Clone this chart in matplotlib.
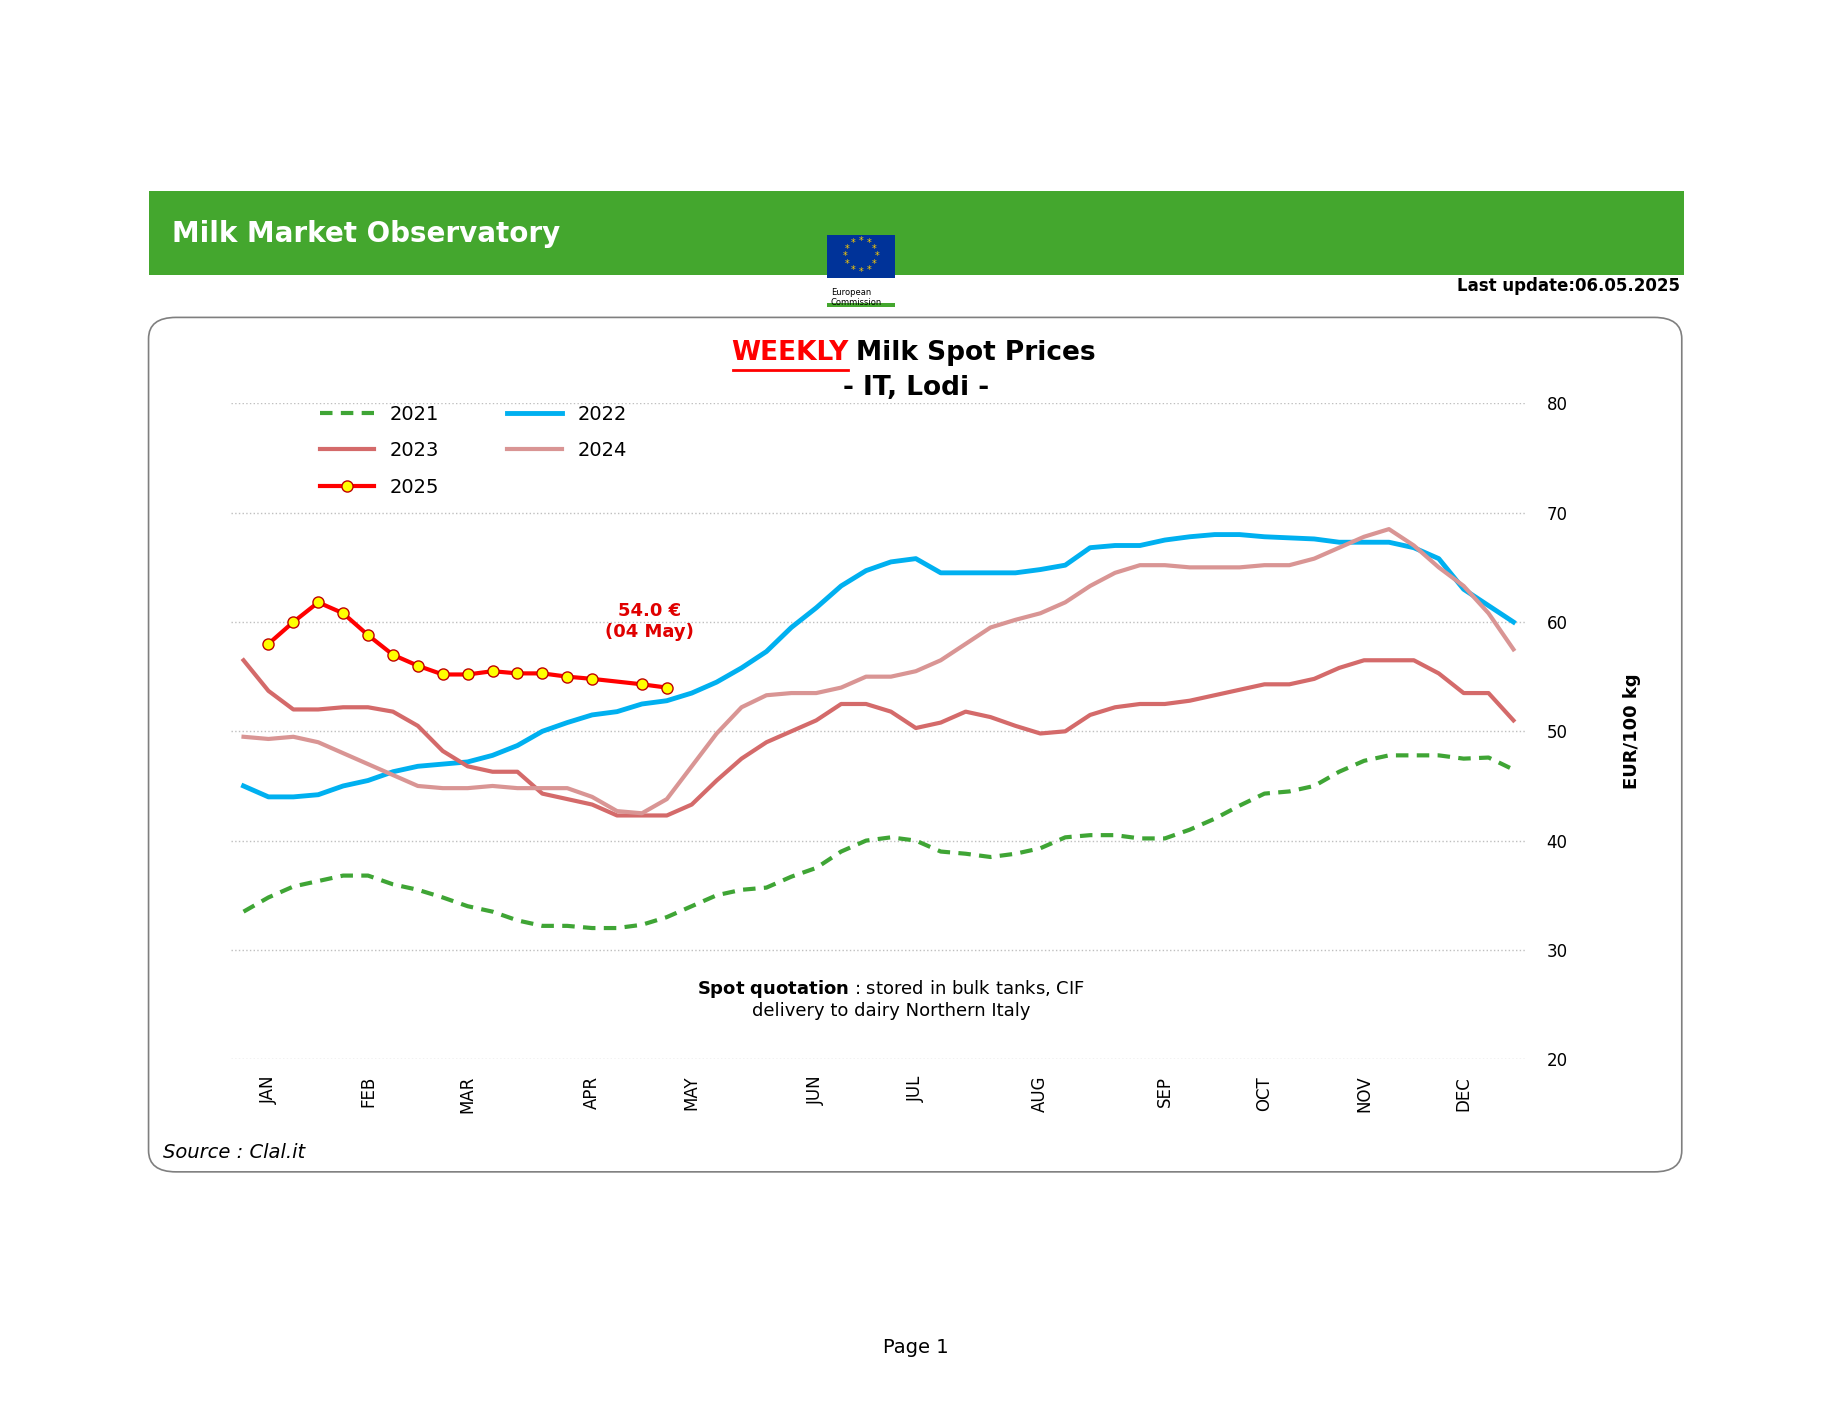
import numpy as np
import matplotlib.pyplot as plt
from matplotlib.patches import Rectangle, FancyBboxPatch

# Weekly spot prices, EUR/100 kg, week 0..51
p2021 = [33.5, 34.8, 35.8, 36.3, 36.8, 36.8, 36, 35.5, 34.8, 34, 33.5, 32.7, 32.2, 32.2, 32, 32, 32.3, 33,
         34, 35, 35.5, 35.7, 36.7, 37.5, 39, 40, 40.3, 40, 39, 38.8, 38.5, 38.8, 39.3, 40.3, 40.5, 40.5,
         40.2, 40.2, 41, 42, 43.2, 44.3, 44.5, 45, 46.3, 47.3, 47.8, 47.8, 47.8, 47.5, 47.6, 46.5]
p2022 = [45, 44, 44, 44.2, 45, 45.5, 46.3, 46.8, 47, 47.2, 47.8, 48.7, 50, 50.8, 51.5, 51.8, 52.5, 52.8,
         53.5, 54.5, 55.8, 57.3, 59.5, 61.3, 63.3, 64.7, 65.5, 65.8, 64.5, 64.5, 64.5, 64.5, 64.8, 65.2,
         66.8, 67, 67, 67.5, 67.8, 68, 68, 67.8, 67.7, 67.6, 67.3, 67.3, 67.3, 66.8, 65.8, 63, 61.5, 60]
p2023 = [56.5, 53.7, 52, 52, 52.2, 52.2, 51.8, 50.5, 48.2, 46.8, 46.3, 46.3, 44.3, 43.8, 43.3, 42.3, 42.3,
         42.3, 43.3, 45.5, 47.5, 49, 50, 51, 52.5, 52.5, 51.8, 50.3, 50.8, 51.8, 51.3, 50.5, 49.8, 50, 51.5,
         52.2, 52.5, 52.5, 52.8, 53.3, 53.8, 54.3, 54.3, 54.8, 55.8, 56.5, 56.5, 56.5, 55.3, 53.5, 53.5, 51]
p2024 = [49.5, 49.3, 49.5, 49, 48, 47, 46, 45, 44.8, 44.8, 45, 44.8, 44.8, 44.8, 44, 42.7, 42.5, 43.8,
         46.8, 49.8, 52.2, 53.3, 53.5, 53.5, 54, 55, 55, 55.5, 56.5, 58, 59.5, 60.2, 60.8, 61.8, 63.3, 64.5,
         65.2, 65.2, 65, 65, 65, 65.2, 65.2, 65.8, 66.8, 67.8, 68.5, 67, 65, 63.3, 60.8, 57.5]
w2025 = [1, 2, 3, 4, 5, 6, 7, 8, 9, 10, 11, 12, 13, 14, 16, 17]
p2025 = [58, 60, 61.8, 60.8, 58.8, 57, 56, 55.2, 55.2, 55.5, 55.3, 55.3, 55, 54.8, 54.3, 54.0]

months = ['JAN', 'FEB', 'MAR', 'APR', 'MAY', 'JUN', 'JUL', 'AUG', 'SEP', 'OCT', 'NOV', 'DEC']
month_weeks = [1, 5, 9, 14, 18, 23, 27, 32, 37, 41, 45, 49]

fig = plt.figure(figsize=(18.34, 14.17), dpi=100)

# header band and frame
fig.patches.append(Rectangle((0.081, 0.806), 0.837, 0.0595, transform=fig.transFigure,
                             facecolor='#44A72E', edgecolor='none'))
fig.patches.append(FancyBboxPatch((0.081, 0.173), 0.836, 0.603, boxstyle='round,pad=0,rounding_size=0.015',
                                  transform=fig.transFigure, facecolor='none', edgecolor='#7F7F7F', lw=1.2))
fig.patches.append(Rectangle((0.451, 0.804), 0.037, 0.03, transform=fig.transFigure,
                             facecolor='#003399', edgecolor='none'))
fig.patches.append(Rectangle((0.451, 0.783), 0.037, 0.003, transform=fig.transFigure,
                             facecolor='#44A72E', edgecolor='none'))
fig.text(0.094, 0.835, 'Milk Market Observatory', color='white', fontsize=20, weight='bold', va='center')
fig.text(0.916, 0.798, 'Last update:06.05.2025', fontsize=12, weight='bold', ha='right', va='center')
fig.text(0.453, 0.797, 'European\nCommission', fontsize=6, va='top')
for a in np.linspace(0, 2 * np.pi, 12, endpoint=False):
    fig.text(0.4695 + 0.0085 * np.cos(a), 0.819 + 0.0085 * np.sin(a) * 1.294, '*', color='#FFCC00',
             fontsize=7, ha='center', va='center')

fig.text(0.4625, 0.751, 'WEEKLY', color='#FF0000', fontsize=19, weight='bold', ha='right', va='center')
fig.text(0.467, 0.751, 'Milk Spot Prices', fontsize=19, weight='bold', ha='left', va='center')
fig.add_artist(plt.Line2D([0.3995, 0.4625], [0.739, 0.739], color='#FF0000', lw=2, transform=fig.transFigure))
fig.text(0.4994, 0.726, '- IT, Lodi -', fontsize=19, weight='bold', ha='center', va='center')
fig.text(0.089, 0.187, 'Source : Clal.it', fontsize=14, style='italic', va='center')
fig.text(0.4994, 0.049, 'Page 1', fontsize=14, ha='center', va='center')

ax = fig.add_axes([0.126, 0.2525, 0.706, 0.4628])
weeks = np.arange(52)
l21, = ax.plot(weeks, p2021, color='#3FA535', lw=3, ls=(0, (3, 2)), label='2021')
l22, = ax.plot(weeks, p2022, color='#00B0F0', lw=3.5, label='2022')
l23, = ax.plot(weeks, p2023, color='#D46A6A', lw=3, label='2023')
l24, = ax.plot(weeks, p2024, color='#D99594', lw=3, label='2024')
l25, = ax.plot(w2025, p2025, color='#FF0000', lw=3, marker='o', ms=8, mfc='#FFFF00', mec='#C00000',
               label='2025')
ax.text(16.3, 58.3, '54.0 €\n(04 May)', color='#E00000', fontsize=13, weight='bold', ha='center', va='bottom')
ax.text(26, 25.5, r'$\bf{Spot\ quotation}$ : stored in bulk tanks, CIF' + '\ndelivery to dairy Northern Italy',
        fontsize=13, ha='center', va='center')

ax.set_xlim(-0.5, 51.5)
ax.set_ylim(20, 80)
ax.set_yticks(range(20, 81, 10))
ax.yaxis.tick_right()
ax.yaxis.set_label_position('right')
ax.set_ylabel('EUR/100 kg', fontsize=13, weight='bold', labelpad=40)
ax.set_xticks(month_weeks)
ax.set_xticklabels(months, rotation=90, fontsize=12)
ax.tick_params(axis='y', labelsize=12, length=0, pad=15)
ax.tick_params(axis='x', length=0, pad=12)
ax.grid(axis='y', color='#BFBFBF', ls=':', lw=1)
for s in ax.spines.values():
    s.set_visible(False)
ax.legend([l21, l23, l25, l22, l24], ['2021', '2023', '2025', '2022', '2024'], ncol=2, loc='upper left',
          bbox_to_anchor=(0.055, 1.025), frameon=False, fontsize=14,
          handlelength=2.8, columnspacing=3.5, labelspacing=0.9)

plt.savefig('out.png')
